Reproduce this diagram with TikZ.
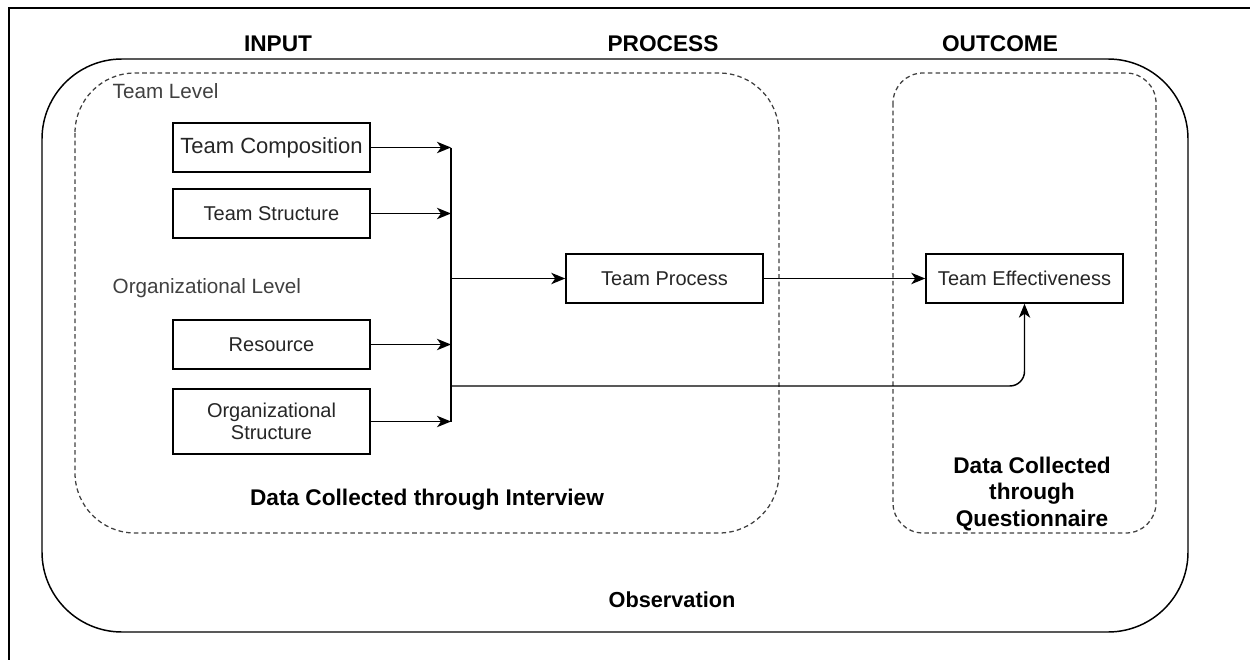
\documentclass[tikz,border=0pt]{standalone}
\usepackage{fontspec}
\setmainfont{Liberation Sans}
\usetikzlibrary{arrows.meta}
\begin{document}
\begin{tikzpicture}[x=0.75pt,y=-0.75pt,
	box/.style={draw,line width=1.1pt,minimum width=147.75pt,minimum height=36.75pt,inner sep=1pt,align=center,text=black!85,font=\fontsize{15}{17}\selectfont},
	head/.style={font=\fontsize{17}{20}\selectfont\bfseries},
	lvl/.style={anchor=west,text=black!75,font=\fontsize{15.5}{18}\selectfont},
	grp/.style={draw=black!75,line width=0.95pt,dash pattern=on 3.4pt off 2.4pt},
	conn/.style={line width=1.1pt,-{Stealth[length=10.5pt,width=8.5pt,inset=3pt]}}]
		\useasboundingbox (0,0) rectangle (1250,660);
		\draw[line width=1.8pt] (9,660) -- (9,8) -- (1250,8);
		\draw[line width=1.1pt,rounded corners=60pt] (42,59) rectangle (1188,632);
		\draw[grp,rounded corners=45pt] (75,73) rectangle (779,533);
		\draw[grp,rounded corners=22.5pt] (893,73) rectangle (1156,533);
		\node[head] (input) at (278,44) {INPUT};
		\node[head] (process) at (663,44) {PROCESS};
		\node[head] (outcome) at (1000,44) {OUTCOME};
		\node[lvl] (teamlvl) at (108,91) {Team Level};
		\node[lvl] (orglvl) at (108,288) {Organizational Level};
		\node[box,font=\fontsize{16.5}{19}\selectfont] (comp) at (271.5,147.5) {Team Composition};
		\node[box] (struct) at (271.5,213.5) {Team Structure};
		\node[box] (res) at (271.5,344.5) {Resource};
		\node[box,minimum height=48.75pt] (orgstruct) at (271.5,421.5) {Organizational\\Structure};
		\node[box] (proc) at (664.5,278.5) {Team Process};
		\node[box] (eff) at (1024.5,278.5) {Team Effectiveness};
		\node[head] (interview) at (427,500) {Data Collected through Interview};
		\node[head,align=center,font=\fontsize{17}{20}\selectfont\bfseries] (quest) at (1032,494) {Data Collected\\through\\Questionnaire};
		\node[head,font=\fontsize{16.3}{19}\selectfont\bfseries] (obs) at (672,600) {Observation};
		\coordinate (bt) at (451,147.5);
		\coordinate (bb) at (451,421.5);
		\coordinate (bm) at (451,386);
		\draw[line width=1.1pt] (bt) -- (bb);
		\draw[conn] (comp) -- (comp -| bt);
		\draw[conn] (struct) -- (struct -| bt);
		\draw[conn] (res) -- (res -| bt);
		\draw[conn] (orgstruct) -- (orgstruct -| bt);
		\draw[conn] (proc -| bt) -- (proc);
		\draw[conn] (proc) -- (eff);
		\draw[conn,rounded corners=11pt] (bm) -- (bm -| eff) -- (eff);
	\end{tikzpicture}
\end{document}
